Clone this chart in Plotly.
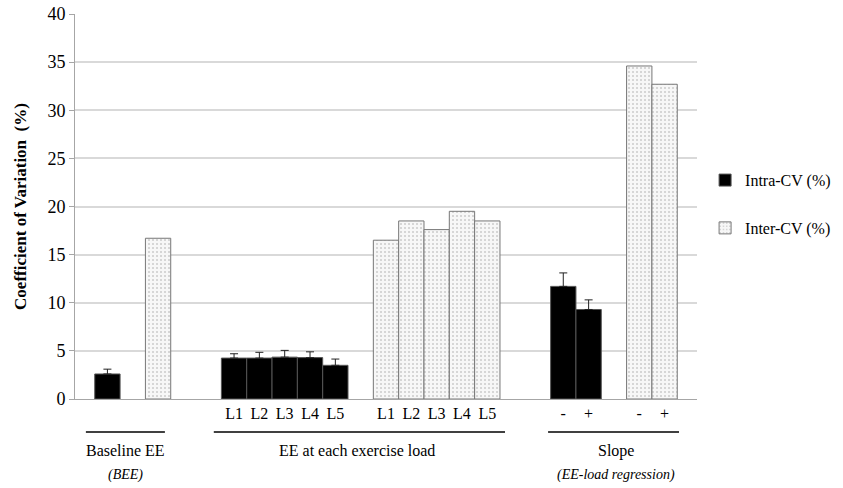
import plotly.graph_objects as go

# ---- data ----
intra_pos = [0, 5, 6, 7, 8, 9, 18, 19]
intra_vals = [2.6, 4.25, 4.25, 4.35, 4.3, 3.5, 11.7, 9.3]
intra_err = [0.5, 0.45, 0.6, 0.7, 0.6, 0.65, 1.4, 1.0]

inter_pos = [2, 11, 12, 13, 14, 15, 21, 22]
inter_vals = [16.7, 16.5, 18.5, 17.6, 19.5, 18.5, 34.6, 32.7]

tick_pos = [5, 6, 7, 8, 9, 11, 12, 13, 14, 15, 18, 19, 21, 22]
tick_text = ["L1", "L2", "L3", "L4", "L5", "L1", "L2", "L3", "L4", "L5", "-", "+", "-", "+"]

group_names = ["Baseline EE", "EE at each exercise load", "Slope"]
group_sub = ["(BEE)", "", "(EE-load regression)"]
group_line = [(-0.85, 2.27), (4.2, 15.7), (17.4, 22.57)]
group_text_x = [0.7, 9.85, 20.1]

FONT = "'Liberation Serif', 'DejaVu Serif', serif"

fig = go.Figure()
fig.add_trace(go.Bar(
    x=intra_pos, y=intra_vals, width=1.0, name="Intra-CV (%)",
    marker=dict(color="black", line=dict(color="#555555", width=1)),
    error_y=dict(type="data", symmetric=False, array=intra_err,
                 arrayminus=[0] * len(intra_err), color="#222222",
                 thickness=1, width=4),
    legendgroup="a",
))
fig.add_trace(go.Bar(
    x=inter_pos, y=inter_vals, width=1.0, name="Inter-CV (%)",
    marker=dict(color="#f7f7f7", line=dict(color="#777777", width=1),
                pattern=dict(shape=".", fgcolor="#a0a0a0", size=4, solidity=0.2)),
    legendgroup="b",
))

shapes = []
annots = []
for i, name in enumerate(group_names):
    x0, x1 = group_line[i]
    shapes.append(dict(type="line", xref="x", yref="paper", x0=x0, x1=x1,
                       y0=-0.0857, y1=-0.0857, line=dict(color="black", width=1.5)))
    annots.append(dict(xref="x", yref="paper", x=group_text_x[i], y=-0.135,
                       text=name, showarrow=False, font=dict(family=FONT, size=16, color="black"),
                       xanchor="center", yanchor="middle"))
    if group_sub[i]:
        annots.append(dict(xref="x", yref="paper", x=group_text_x[i], y=-0.197,
                           text="<i>" + group_sub[i] + "</i>", showarrow=False,
                           font=dict(family=FONT, size=14, color="black"),
                           xanchor="center", yanchor="middle"))

fig.update_layout(
    width=843, height=488,
    margin=dict(l=75, r=146, t=14, b=89, autoexpand=False),
    plot_bgcolor="white", paper_bgcolor="white",
    barmode="overlay",
    font=dict(family=FONT, color="black"),
    showlegend=True,
    legend=dict(x=1.013, y=0.506, xanchor="left", yanchor="middle",
                font=dict(family=FONT, size=16, color="black"),
                tracegroupgap=24, traceorder="grouped"),
    shapes=shapes,
    annotations=annots,
    xaxis=dict(range=[-1.28, 23.28], tickmode="array", tickvals=tick_pos, ticktext=tick_text,
               showgrid=False, showline=True, linecolor="#a6a6a6", linewidth=1, automargin=False,
               ticks="", tickfont=dict(family=FONT, size=16, color="black"), zeroline=False),
    yaxis=dict(range=[0, 40], dtick=5, showgrid=True, gridcolor="#d9d9d9", gridwidth=1.5,
               showline=True, linecolor="#a6a6a6", linewidth=1, ticks="outside", automargin=False,
               ticklen=5, tickcolor="#a6a6a6", zeroline=False, ticklabeloverflow="allow",
               tickfont=dict(family=FONT, size=18, color="black"),
               title=dict(text="<b>Coefficient of Variation  (%)</b>", standoff=16,
                          font=dict(family=FONT, size=17, color="black"))),
)

# remove the default 8px page margin so the figure fills the window exactly
fig.write_html("out.html", config={"displayModeBar": False},
               post_script="document.body.style.margin='0';")
